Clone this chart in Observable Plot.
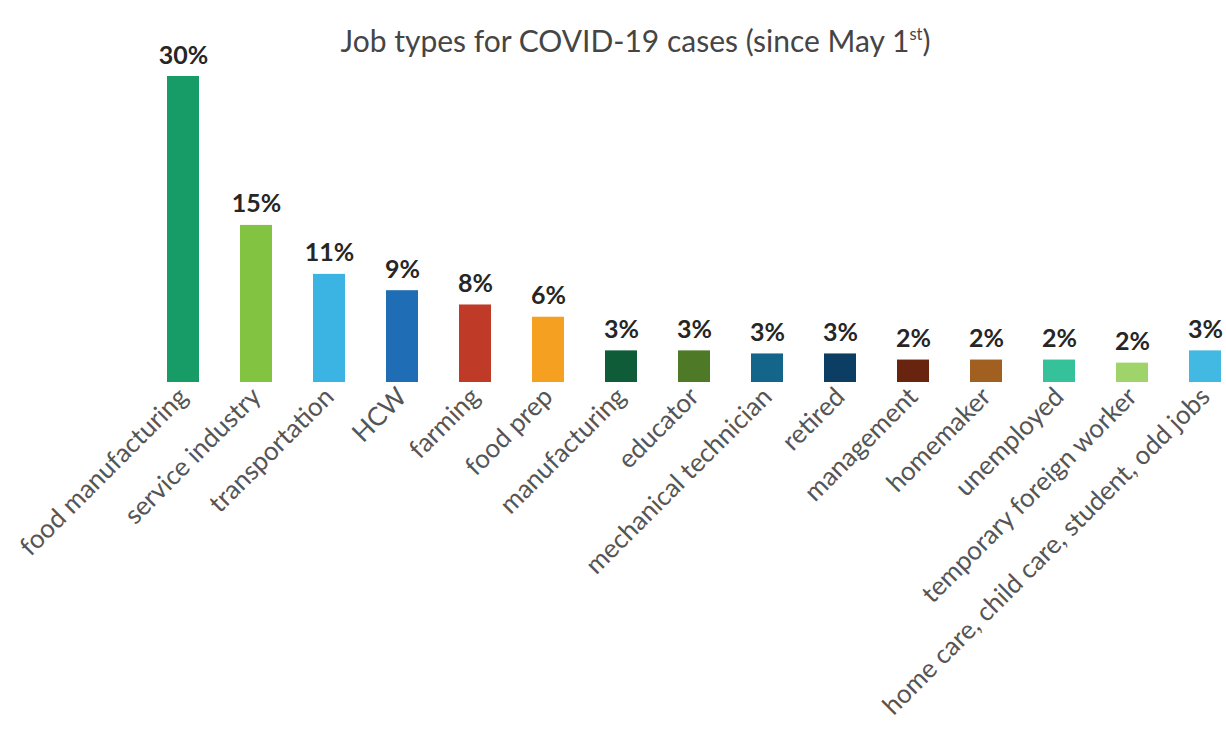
<!DOCTYPE html>
<html>
<head>
<meta charset="utf-8">
<script src="https://cdn.jsdelivr.net/npm/d3@7"></script>
<script src="https://cdn.jsdelivr.net/npm/@observablehq/plot@0.6"></script>
<style>
  html, body { margin: 0; padding: 0; background: #fff; overflow: hidden; }
  #wrap { position: relative; width: 1226px; height: 734px; }
  #title { position: absolute; left: 0; width: 1271px; top: 22px; text-align: center;
           font-family: Lato, "Open Sans", sans-serif; font-size: 30px; color: #454545; }
  #title sup { font-size: 0.55em; vertical-align: 0.75em; line-height: 0; }
</style>
</head>
<body>
<div id="wrap">
  <div id="title">Job types for COVID-19 cases (since May 1<sup>st</sup>)</div>
  <div id="chart"></div>
</div>
<script>
const categories = [
  "food manufacturing", "service industry", "transportation", "HCW", "farming",
  "food prep", "manufacturing", "educator", "mechanical technician", "retired",
  "management", "homemaker", "unemployed", "temporary foreign worker",
  "home care, child care, student, odd jobs"
];
const percents = [30, 15.4, 10.6, 9.0, 7.6, 6.4, 3.1, 3.1, 2.8, 2.8, 2.2, 2.2, 2.2, 1.9, 3.1];
const colors = [
  "#179c68", "#82c341", "#3cb4e3", "#1f6db4", "#c03b27", "#f5a020", "#0e5c38",
  "#4e7a28", "#13668a", "#0c3d63", "#68240f", "#a15f20", "#35c29b", "#9fd46b", "#42b9e2"
];

const data = categories.map((c, i) => ({job: c, pct: percents[i], color: colors[i]}));

const chart = Plot.plot({
  width: 1226,
  height: 734,
  marginTop: 76,
  marginBottom: 352,
  style: {fontFamily: "Lato, 'Open Sans', sans-serif", background: "transparent"},
  x: {domain: categories, range: [144.35, 1243.85], paddingInner: 0.56, paddingOuter: 0.28, label: null},
  y: {domain: [0, 30], axis: null},
  marks: [
    Plot.barY(data, {x: "job", y: "pct", fill: "color"}),
    Plot.text(data, {x: "job", y: "pct", text: d => Math.round(d.pct) + "%",
      dy: -21, fontSize: 25, fontWeight: "bold", fill: "#262626"}),
    Plot.axisX({tickSize: 0, tickRotate: -45, tickPadding: 10, fontSize: 26, fill: "#555555", label: null})
  ]
});
document.getElementById("chart").append(chart);
</script>
</body>
</html>
